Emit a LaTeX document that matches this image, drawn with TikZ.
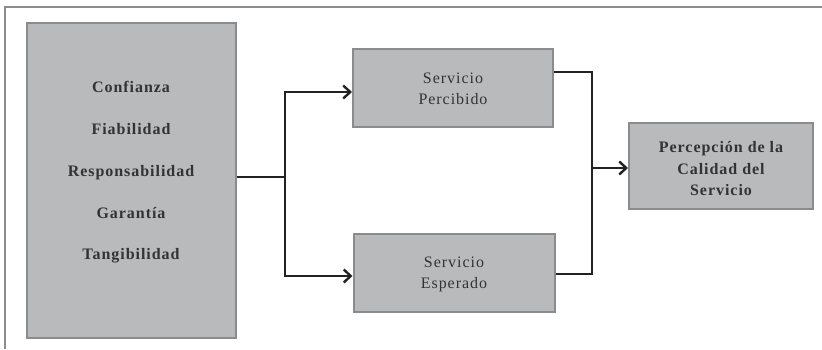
\documentclass[tikz,border=0pt]{standalone}
\usepackage{fontspec}
\setmainfont{Liberation Serif}
\newfontfamily\spacedfont[LetterSpace=6]{Liberation Serif}
\usetikzlibrary{arrows.meta}
\definecolor{boxfill}{HTML}{B9BABC}
\definecolor{boxline}{HTML}{8A8B8D}
\definecolor{txt}{HTML}{333333}
\definecolor{conncol}{HTML}{222222}
\tikzset{
  greybox/.style={draw=boxline, line width=2pt, fill=boxfill, inner sep=0pt},
  boldtxt/.style={text=txt, font=\spacedfont\bfseries\fontsize{16}{21.5}\selectfont, align=center, inner sep=0pt},
  regtxt/.style={text=txt, font=\spacedfont\fontsize{16}{21}\selectfont, align=center, inner sep=0pt},
  conn/.style={draw=conncol, line width=2.4pt},
  arr/.style={conn, -{Straight Barb[length=7pt, width=13pt, line width=2.4pt]}},
}
\begin{document}
\begin{tikzpicture}[x=1pt, y=-1pt]
\useasboundingbox (0,0) rectangle (822,349);
% frame
\draw[boxline, line width=1.5pt] (5,349) -- (5,7) -- (822,7);
% boxes
\node[greybox, minimum width=209pt, minimum height=315pt] (factores) at (131.5,180.5) {};
\node[boldtxt, font=\spacedfont\bfseries\fontsize{16}{41.8}\selectfont] (lista) at (131,172.5) {Confianza\\Fiabilidad\\Responsabilidad\\Garantía\\Tangibilidad};
\node[greybox, minimum width=200pt, minimum height=78pt] (percibido) at (453,88) {};
\node[regtxt] (percibidotxt) at (453,89) {Servicio\\Percibido};
\node[greybox, minimum width=201pt, minimum height=78pt] (esperado) at (454,273) {};
\node[regtxt] (esperadotxt) at (454,274) {Servicio\\Esperado};
\node[greybox, minimum width=184pt, minimum height=86pt] (percepcion) at (721,166) {};
\node[boldtxt] (percepciontxt) at (721,169) {Percepción de la\\Calidad del\\Servicio};
% connectors
\coordinate (split) at (285,177);
\coordinate (join) at (592,168);
\draw[conn] (factores.east |- split) -- (split);
\draw[arr] (split) |- ([yshift=-4pt]percibido.west);
\draw[arr] (split) |- ([yshift=-3pt]esperado.west);
\draw[conn] ([yshift=16pt]percibido.east) -| (join);
\draw[conn] ([yshift=-1pt]esperado.east) -| (join);
\draw[arr] (join) -- (percepcion.west |- join);
\end{tikzpicture}
\end{document}
